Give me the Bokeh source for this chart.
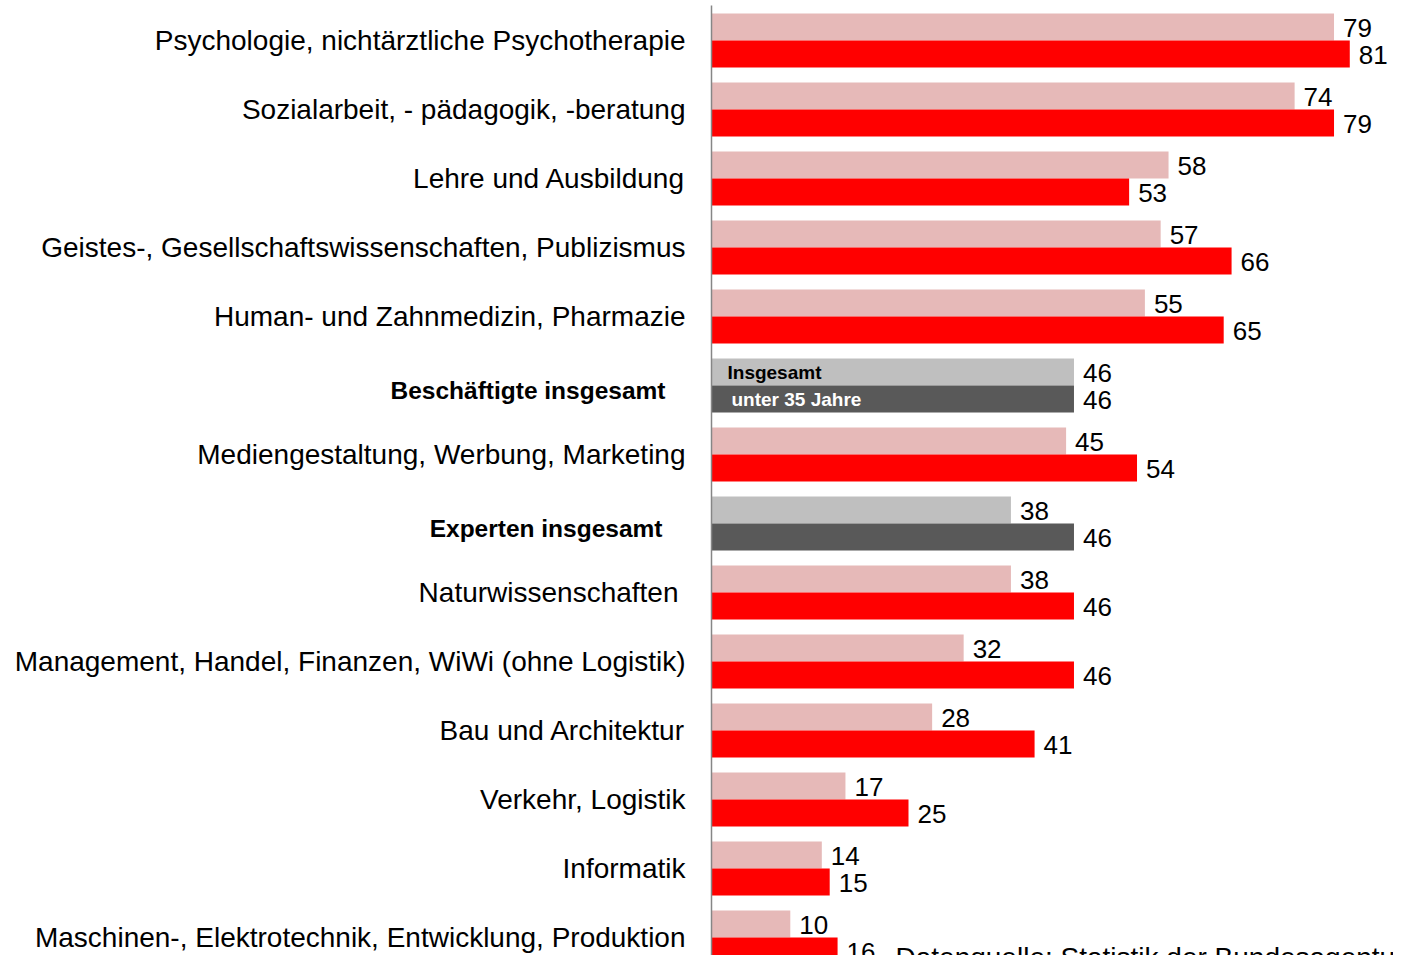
from bokeh.plotting import figure
from bokeh.models import ColumnDataSource, Range1d, Label
from bokeh.core.properties import value
from bokeh.embed import file_html
from bokeh.resources import INLINE

categories = [
    "Psychologie, nichtärztliche Psychotherapie",
    "Sozialarbeit, - pädagogik, -beratung",
    "Lehre und Ausbildung",
    "Geistes-, Gesellschaftswissenschaften, Publizismus",
    "Human- und Zahnmedizin, Pharmazie",
    "Beschäftigte insgesamt",
    "Mediengestaltung, Werbung, Marketing",
    "Experten insgesamt",
    "Naturwissenschaften",
    "Management, Handel, Finanzen, WiWi (ohne Logistik)",
    "Bau und Architektur",
    "Verkehr, Logistik",
    "Informatik",
    "Maschinen-, Elektrotechnik, Entwicklung, Produktion",
]
insgesamt = [79, 74, 58, 57, 55, 46, 45, 38, 38, 32, 28, 17, 14, 10]
unter35 = [81, 79, 53, 66, 65, 46, 54, 46, 46, 46, 41, 25, 15, 16]
total_rows = ["Beschäftigte insgesamt", "Experten insgesamt"]
series_names = ["Insgesamt", "unter 35 Jahre"]
source_note = "Datenquelle: Statistik der Bundesagentur für Arbeit"

FONT = "Liberation Sans"
PX = 7.88      # pixels per unit on x
W, H = 1393, 955
ZERO_X = 711   # canvas x of value 0
PITCH = 69
BOUND0 = 40

n = len(categories)
idx = list(range(n))
is_total = [c in total_rows for c in categories]
half = 27 / PITCH / 2

p = figure(width=W, height=H, output_backend="svg", toolbar_location=None,
           x_axis_location=None, y_axis_location=None, min_border=0,
           x_range=Range1d(-ZERO_X / PX, (W - ZERO_X) / PX),
           y_range=Range1d((H - BOUND0) / PITCH, -BOUND0 / PITCH))
p.grid.visible = False
p.outline_line_color = None
p.background_fill_color = "white"

src = ColumnDataSource(dict(
    y=idx,
    ya=[k - half for k in idx],
    yb=[k + half for k in idx],
    ins=insgesamt,
    u35=unter35,
    ins_lbl=[str(v) for v in insgesamt],
    u35_lbl=[str(v) for v in unter35],
    ca=["#BFBFBF" if t else "#E6B9B8" for t in is_total],
    cb=["#595959" if t else "#FF0000" for t in is_total],
))
cat_off = [-46 if c == "Beschäftigte insgesamt" else -49 if c == "Experten insgesamt"
           else -33 if c == "Naturwissenschaften" else -26 for c in categories]

p.hbar(y="ya", left=0, right="ins", height=2 * half, fill_color="ca", line_color=None, source=src)
p.hbar(y="yb", left=0, right="u35", height=2 * half, fill_color="cb", line_color=None, source=src)

# axis line
p.segment(x0=[0], x1=[0], y0=[(5 - BOUND0) / PITCH], y1=[(H - BOUND0) / PITCH],
          line_color="#868686", line_width=1.5)

# value labels
p.text(x="ins", y="ya", text="ins_lbl", source=src, x_offset=9, y_offset=1,
       text_align="left", text_baseline="middle", text_font=value(FONT),
       text_font_size="26px", text_color="black")
p.text(x="u35", y="yb", text="u35_lbl", source=src, x_offset=9, y_offset=1,
       text_align="left", text_baseline="middle", text_font=value(FONT),
       text_font_size="26px", text_color="black")

# category labels
normal = ColumnDataSource(dict(
    y=[k for k in idx if not is_total[k]],
    t=[categories[k] for k in idx if not is_total[k]],
    xo=[cat_off[k] for k in idx if not is_total[k]],
))
bold = ColumnDataSource(dict(
    y=[k for k in idx if is_total[k]],
    t=[categories[k] for k in idx if is_total[k]],
    xo=[cat_off[k] for k in idx if is_total[k]],
))
p.text(x=0, y="y", text="t", x_offset="xo", y_offset=0, source=normal,
       text_align="right", text_baseline="middle", text_font=value(FONT),
       text_font_size="28px", text_color="black")
p.text(x=0, y="y", text="t", x_offset="xo", y_offset=5, source=bold,
       text_align="right", text_baseline="middle", text_font=value(FONT),
       text_font_size="24.5px", text_font_style="bold", text_color="black")

# series names inside the "Beschäftigte insgesamt" bars
k0 = categories.index("Beschäftigte insgesamt")
p.text(x=[0], y=[k0 - half], text=[series_names[0]], x_offset=16, y_offset=0,
       text_align="left", text_baseline="middle", text_font=value(FONT),
       text_font_size="19px", text_font_style="bold", text_color="black")
p.text(x=[0], y=[k0 + half], text=[series_names[1]], x_offset=20, y_offset=0,
       text_align="left", text_baseline="middle", text_font=value(FONT),
       text_font_size="19px", text_font_style="bold", text_color="white")

p.add_layout(Label(x=895, y=14, x_units="screen", y_units="screen", text=source_note,
                   text_font=FONT, text_font_size="28px", text_color="black",
                   text_baseline="top", text_align="left"))

open("out.html", "w").write(file_html(p, INLINE))
